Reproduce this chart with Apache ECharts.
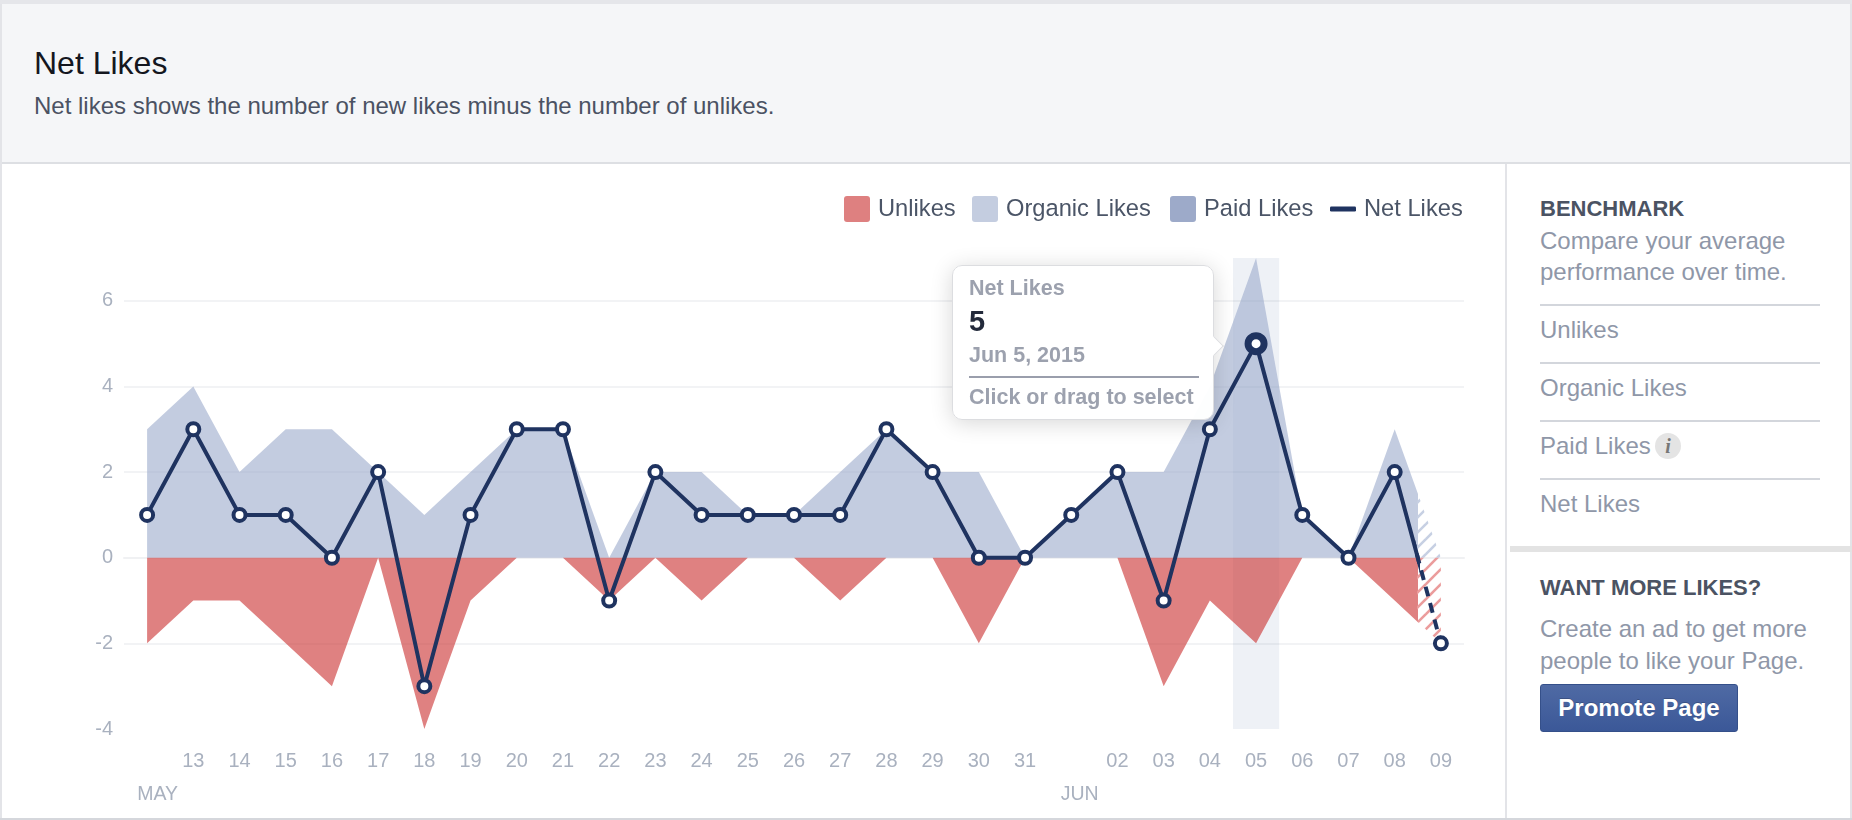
<!DOCTYPE html>
<html><head><meta charset="utf-8">
<script src="https://cdn.jsdelivr.net/npm/echarts@6/dist/echarts.min.js"></script>
<style>
html,body{margin:0;padding:0;width:1852px;height:820px;overflow:hidden;background:#fff;font-family:"Liberation Sans",Arial,sans-serif}
.t{position:absolute;white-space:nowrap;line-height:30px;height:30px}
.r{position:absolute;background:#d3d6dc}
#chart{position:absolute;left:0;top:0;width:1852px;height:820px}
</style></head><body>
<div class="r" style="left:0;top:0;width:1852px;height:4px;background:#e5e6ea"></div>
<div class="r" style="left:0;top:4px;width:1852px;height:159px;background:#f5f6f8"></div>
<div class="r" style="left:0;top:162px;width:1852px;height:2px;background:#dddfe3"></div>
<div class="r" style="left:0;top:4px;width:2px;height:816px;background:#e3e4e8"></div>
<div class="r" style="left:1850px;top:4px;width:2px;height:816px;background:#e3e4e8"></div>
<div class="r" style="left:0;top:818px;width:1852px;height:2px;background:#d5d7dc"></div>
<div class="t" style="left:34px;top:48px;font-size:32px;color:#14171f">Net Likes</div>
<div class="t" style="left:34px;top:91px;font-size:24px;color:#4b5263">Net likes shows the number of new likes minus the number of unlikes.</div>
<div class="r" style="left:1505px;top:164px;width:2px;height:654px;background:#e3e4e8"></div>
<div class="t" style="left:1540px;top:194px;font-size:22px;font-weight:bold;color:#4b5363">BENCHMARK</div>
<div class="t" style="left:1540px;top:226px;font-size:24px;color:#8f97a8">Compare your average</div>
<div class="t" style="left:1540px;top:257px;font-size:24px;color:#8f97a8">performance over time.</div>
<div class="r" style="left:1540px;top:304px;width:280px;height:2px"></div>
<div class="t" style="left:1540px;top:315px;font-size:24px;color:#8f97a8">Unlikes</div>
<div class="r" style="left:1540px;top:362px;width:280px;height:2px"></div>
<div class="t" style="left:1540px;top:373px;font-size:24px;color:#8f97a8">Organic Likes</div>
<div class="r" style="left:1540px;top:420px;width:280px;height:2px"></div>
<div class="t" style="left:1540px;top:431px;font-size:24px;color:#8f97a8">Paid Likes</div>
<div style="position:absolute;left:1655px;top:433px;width:26px;height:26px;border-radius:13px;background:#e4e4e4;color:#777;font:italic bold 20px/26px 'Liberation Serif',serif;text-align:center">i</div>
<div class="r" style="left:1540px;top:478px;width:280px;height:2px"></div>
<div class="t" style="left:1540px;top:489px;font-size:24px;color:#8f97a8">Net Likes</div>
<div class="r" style="left:1510px;top:546px;width:342px;height:6px;background:#e3e3e3"></div>
<div class="t" style="left:1540px;top:573px;font-size:22px;font-weight:bold;color:#4b5363">WANT MORE LIKES?</div>
<div class="t" style="left:1540px;top:614px;font-size:24px;color:#8f97a8">Create an ad to get more</div>
<div class="t" style="left:1540px;top:646px;font-size:24px;color:#8f97a8">people to like your Page.</div>
<div style="position:absolute;left:1540px;top:684px;width:196px;height:46px;border:1px solid #35508a;border-radius:3px;background:linear-gradient(#4f6aa4,#3b5898);color:#fff;font:bold 24px/46px 'Liberation Sans',sans-serif;text-align:center;text-shadow:0 -1px 0 rgba(0,0,0,.2)">Promote Page</div>
<div id="chart"></div>
<script>
// ---- data ----
const tickLabels = ['', '13','14','15','16','17','18','19','20','21','22','23','24','25','26','27','28','29','30','31','', '02','03','04','05','06','07','08','09'];
const monthLabels = ['MAY','','','','','','','','','','','','','','','','','','','','JUN','','','','','','','',''];
const organicLikes = [3,4,2,3,3,2,1,2,3,3,0,2,2,1,1,2,3,2,2,0,1,2,2,4,7,1,0,3,0];
const paidLikes    = [0,0,0,0,0,0,0,0,0,0,0,0,0,0,0,0,0,0,0,0,0,0,0,0,0,0,0,0,0];
const unlikes      = [-2,-1,-1,-2,-3,0,-4,-1,0,0,-1,0,-1,0,0,-1,0,0,-2,0,0,0,-3,-1,-2,0,0,-1,-2];
const netLikes     = [1,3,1,1,0,2,-3,1,3,3,-1,2,1,1,1,1,3,2,0,0,1,2,-1,3,5,1,0,2,-2];
const yTicks = {min:-4, max:7, interval:2};
const selectedIndex = 24;
const selectedDate = 'Jun 5, 2015';
const partialFrom = 27.5;   // days after this point are incomplete (hatched)

// ---- layout / style ----
const NAVY='#1f3360', GREY='#a9b1bf';
const L=124, R=1464, T=258, H=471, W=R-L, band=W/tickLabels.length;
const split=L+band*(partialFrom+0.5);
const pairs=a=>a.map((v,i)=>[i,v]);
function hatch(color){
  const c=document.createElement('canvas'); c.width=c.height=15;
  const g=c.getContext('2d'); g.strokeStyle=color; g.lineWidth=2.6;
  [[-1,16,16,-1],[-16,16,1,-1],[14,16,31,-1]].forEach(s=>{g.beginPath();g.moveTo(s[0],s[1]);g.lineTo(s[2],s[3]);g.stroke();});
  return {image:c,repeat:'repeat'};
}
const ORG='rgba(155,170,203,.6)', RED='rgba(204,51,51,.62)';
const noLine={width:0,opacity:0};
const net=pairs(netLikes).map((p,i)=> i===selectedIndex
  ? {value:p,symbolSize:16,itemStyle:{borderWidth:7}} : {value:p});
const netBase={type:'line',name:'Net Likes',symbol:'circle',symbolSize:12,showSymbol:true,showAllSymbol:true,
  itemStyle:{color:'#fff',borderColor:NAVY,borderWidth:4},z:6,emphasis:{disabled:true},animation:false,clip:true};
const area=(name,data,color,gi)=>({type:'line',name,data:pairs(data),xAxisIndex:gi+1,yAxisIndex:gi,symbol:'none',
  lineStyle:noLine,areaStyle:{color,opacity:1},z:2,emphasis:{disabled:true},silent:true,animation:false,clip:true,itemStyle:{color:typeof color==='string'?color:'#ccc'}});
const sq='path://M3 0H23A3 3 0 0 1 26 3V23A3 3 0 0 1 23 26H3A3 3 0 0 1 0 23V3A3 3 0 0 1 3 0Z';
const legend=(name,left,color,w,h,icon)=>({left,top:196,selectedMode:false,itemWidth:w,itemHeight:h,padding:0,
  data:[{name,icon,itemStyle:{color,borderWidth:0,opacity:1}}],
  textStyle:{color:'#4b5567',fontSize:23.7,fontFamily:'Liberation Sans',lineHeight:26,height:26,padding:[0,0,0,3]}});
const hidden=(i,min,max)=>({type:'value',gridIndex:i,min,max,show:false});

const chart=echarts.init(document.getElementById('chart'),null,{renderer:'canvas'});
chart.setOption({
  animation:false,
  textStyle:{fontFamily:'Liberation Sans'},
  grid:[
    {left:L,top:T,width:W,height:H},
    {left:L,top:T,width:split-L,height:H},
    {left:split,top:T,width:R-split,height:H}
  ],
  legend:[
    legend('Unlikes',844,'#de8080',26,26,sq),
    legend('Organic Likes',972,'#c4cde0',26,26,sq),
    legend('Paid Likes',1170,'#9daac9',26,26,sq),
    legend('Net Likes',1330,NAVY,26,5,'roundRect')
  ],
  xAxis:[
    {type:'category',gridIndex:0,data:tickLabels,boundaryGap:true,
     axisLine:{lineStyle:{color:'#f0f1f3',width:2}},
     axisTick:{length:7,interval:0,lineStyle:{color:'#c9ccd1',width:2}},
     axisLabel:{interval:0,margin:22,color:GREY,fontSize:20,hideOverlap:false}},
    {type:'category',gridIndex:0,data:monthLabels,position:'bottom',boundaryGap:true,
     axisLine:{show:false},
     axisTick:{length:56,interval:(i,v)=>v!=='',lineStyle:{color:'#c9ccd1',width:2,type:[7,5]}},
     axisLabel:{interval:(i,v)=>v!=='',margin:56,color:GREY,fontSize:19.5,
       formatter:v=>v==='MAY'?'{a|MAY}':'{b|JUN}',
       rich:{a:{padding:[0,0,0,21],fontSize:19.5,color:GREY},b:{padding:[0,0,0,17],fontSize:19.5,color:GREY}}}},
    hidden(1,-0.5,partialFrom),
    hidden(2,partialFrom,tickLabels.length-0.5)
  ],
  yAxis:[
    {type:'value',gridIndex:0,min:yTicks.min,max:yTicks.max,interval:yTicks.interval,
     axisLine:{show:false},axisTick:{show:false},
     axisLabel:{margin:11,color:GREY,fontSize:20,showMaxLabel:false},
     splitLine:{showMaxLine:false,showMinLine:false,lineStyle:{color:'#f2f3f5',width:2}}},
    hidden(1,yTicks.min,yTicks.max),
    hidden(2,yTicks.min,yTicks.max)
  ],
  tooltip:{trigger:'item',alwaysShowContent:true,transitionDuration:0,position:[952,265],padding:0,borderWidth:0,
    backgroundColor:'transparent',extraCssText:'box-shadow:none;',
    formatter:p=>`<div style="position:relative;width:260px;height:153px;box-sizing:content-box;background:rgba(255,255,255,.97);border:1px solid #dcdde0;border-radius:10px;box-shadow:0 3px 22px rgba(0,0,0,.16);font-family:'Liberation Sans';font-weight:bold;color:#9ca1ae">
      <div style="position:absolute;left:254px;top:73px;width:13px;height:13px;background:#fff;border-top:1px solid #dcdde0;border-right:1px solid #dcdde0;transform:rotate(45deg)"></div>
      <div style="position:absolute;left:16px;top:9px;font-size:21.5px;line-height:26px">${p.seriesName}</div>
      <div style="position:absolute;left:16px;top:37px;font-size:29px;line-height:36px;color:#232a3b">${p.value[1]}</div>
      <div style="position:absolute;left:16px;top:76px;font-size:21.5px;line-height:26px">${selectedDate}</div>
      <div style="position:absolute;left:16px;top:110px;width:230px;height:2px;background:#9a9eac"></div>
      <div style="position:absolute;left:16px;top:118px;font-size:21.5px;line-height:26px">Click or drag to select</div></div>`},
  series:[
    area('Organic Likes',organicLikes,ORG,1),
    area('Paid Likes',paidLikes,'#9daac9',1),
    area('Unlikes',unlikes,RED,1),
    {type:'line',name:'band',xAxisIndex:2,yAxisIndex:1,data:[],z:3,silent:true,animation:false,
     markArea:{silent:true,animation:false,itemStyle:{color:'rgba(59,89,152,.085)'},
       data:[[{xAxis:selectedIndex-0.5,yAxis:yTicks.min},{xAxis:selectedIndex+0.5,yAxis:yTicks.max}]]}},
    Object.assign({},netBase,{data:net,xAxisIndex:2,yAxisIndex:1,lineStyle:{color:NAVY,width:4}}),
    area('Organic Likes',organicLikes,hatch('#c7d0e3'),2),
    area('Unlikes',unlikes,hatch('#eb9c9c'),2),
    Object.assign({},netBase,{data:net,xAxisIndex:3,yAxisIndex:2,lineStyle:{color:NAVY,width:4,type:[10,7]}})
  ]
});
chart.dispatchAction({type:'showTip',seriesIndex:4,dataIndex:selectedIndex});
</script>
</body></html>
